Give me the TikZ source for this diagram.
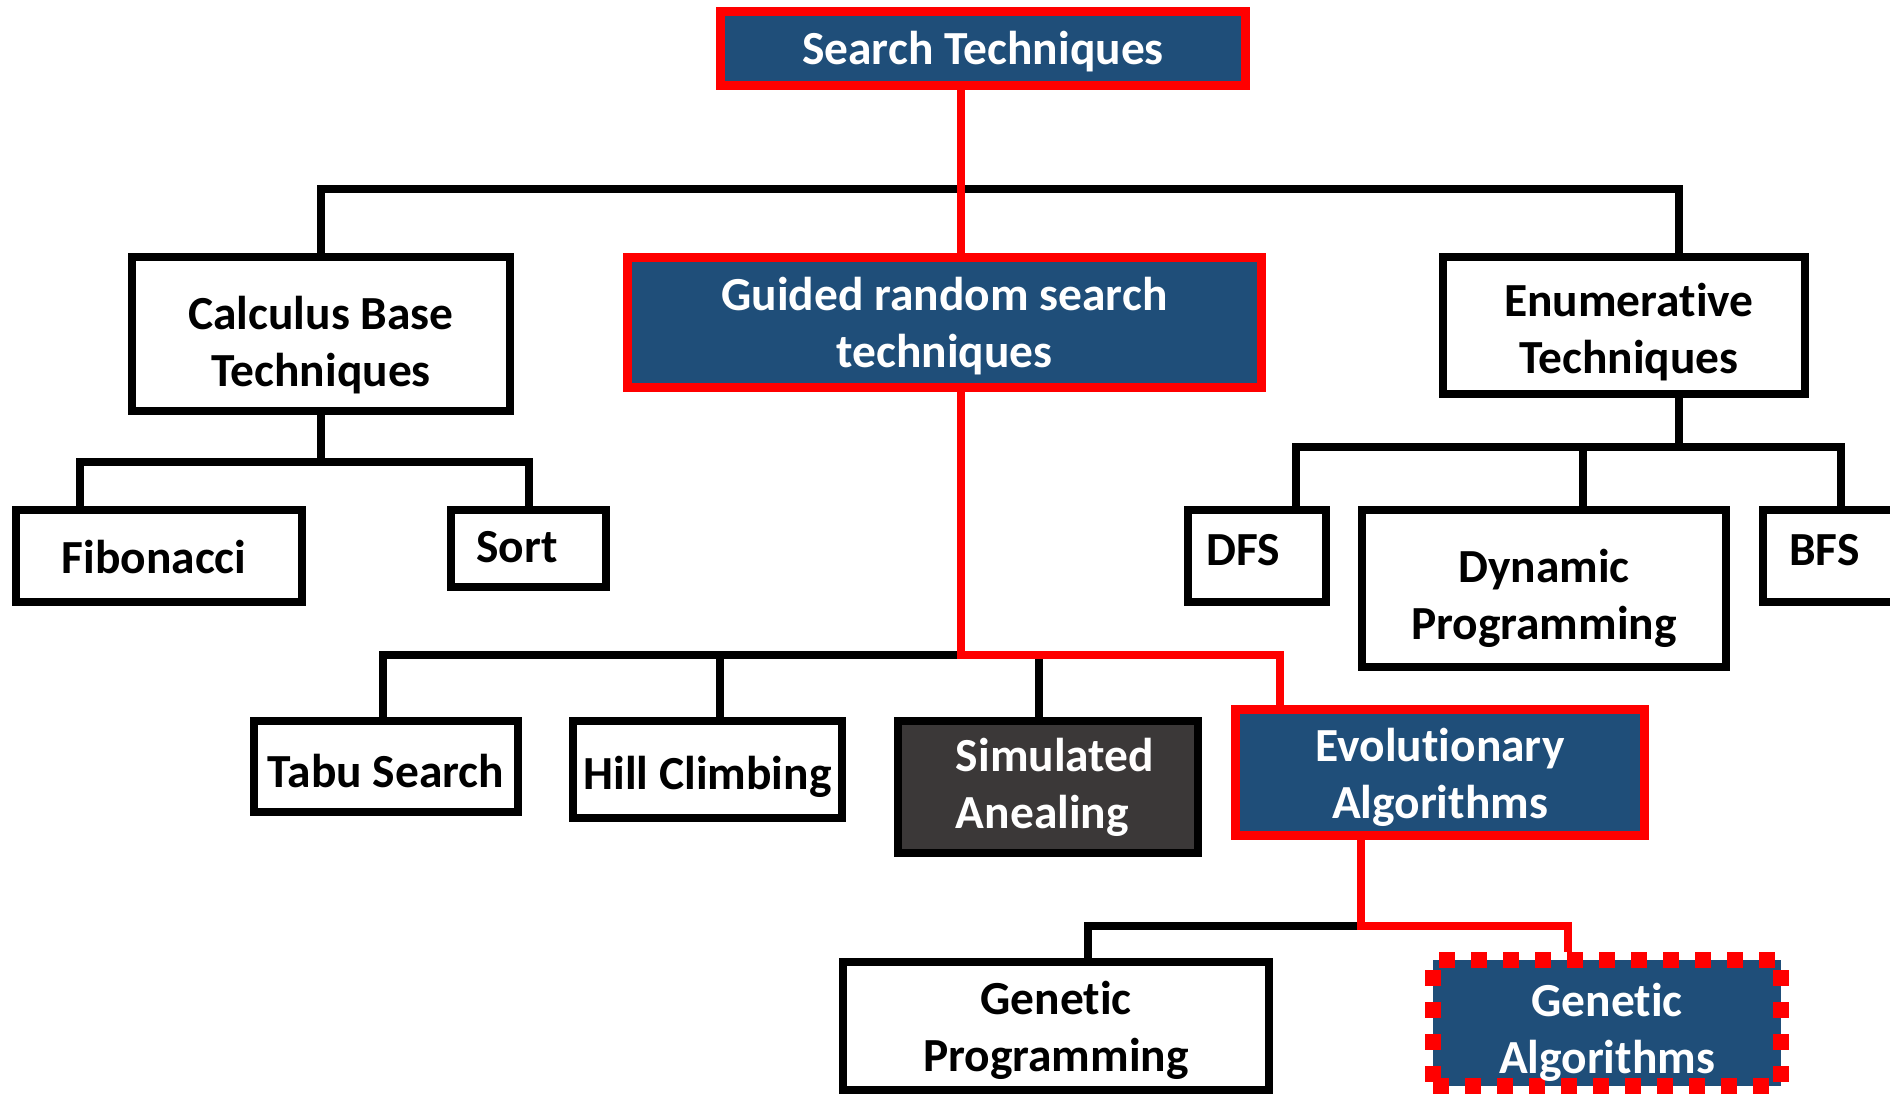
\documentclass[tikz,border=0pt]{standalone}
\usepackage{fontspec}
\setmainfont{Carlito}[RawFeature={-liga;-clig;-calt}]
\definecolor{dblue}{RGB}{31,78,121}
\definecolor{dgray}{RGB}{59,56,56}
\definecolor{hred}{RGB}{255,0,0}
\begin{document}
\begin{tikzpicture}[x=0.01cm,y=-0.01cm,
  every node/.style={inner sep=0pt,align=center,font=\fontsize{13.5}{16.2}\selectfont\bfseries,
    execute at end node={\rule[-3.5pt]{0pt}{3.5pt}}},
  ts/.style 2 args={execute at begin node={\hspace*{#2pt}\rule{0pt}{#1pt}}},
  wbox/.style={draw=black,line width=0.08cm,fill=white,text=black},
  gbox/.style={draw=black,line width=0.08cm,fill=dgray,text=white},
  rbox/.style={draw=hred,line width=0.09cm,fill=dblue,text=white},
  dbox/.style={draw=hred,line width=0.16cm,dash pattern=on 0.16cm off 0.16cm,fill=dblue,text=white},
  blk/.style={draw=black,line width=0.08cm},
  redl/.style={draw=hred,line width=0.085cm}]
\useasboundingbox (0,0) rectangle (1890,1097);
\fill[white] (0,0) rectangle (1890,1097);
% nodes
\node[rbox,ts={12.6}{0},minimum width=5.25cm,minimum height=0.74cm] (search) at (983,48.5) {Search Techniques};
\node[wbox,ts={33.6}{0},minimum width=3.78cm,minimum height=1.54cm] (calc) at (321,334) {Calculus Base\\Techniques};
\node[rbox,ts={29.2}{0},minimum width=6.34cm,minimum height=1.30cm] (guided) at (944.5,322.5) {Guided random search\\techniques};
\node[wbox,ts={30.8}{2.8},minimum width=3.62cm,minimum height=1.37cm] (enum) at (1624,325.5) {Enumerative\\Techniques};
\node[wbox,ts={13.4}{0},minimum width=2.86cm,minimum height=0.92cm] (fib) at (159,556) {Fibonacci\rule{2.8pt}{0pt}};
\node[wbox,ts={11.4}{0},minimum width=1.55cm,minimum height=0.77cm] (sort) at (528.5,548.5) {Sort\rule{6.5pt}{0pt}};
\node[wbox,ts={9}{0},minimum width=1.38cm,minimum height=0.92cm] (dfs) at (1257,556) {DFS\rule{8pt}{0pt}};
\node[wbox,ts={32.4}{0},minimum width=3.64cm,minimum height=1.57cm] (dp) at (1544,588.5) {Dynamic\\Programming};
\node[wbox,ts={9}{0},minimum width=1.42cm,minimum height=0.92cm] (bfs) at (1834,556) {BFS\rule{5.5pt}{0pt}};
\node[wbox,ts={15.6}{0},minimum width=2.64cm,minimum height=0.91cm] (tabu) at (386,766.5) {Tabu Search};
\node[wbox,ts={14.6}{0},minimum width=2.69cm,minimum height=0.97cm] (hill) at (707.5,769.5) {Hill Climbing};
\node[gbox,ts={27.2}{4},align=left,minimum width=3.00cm,minimum height=1.32cm] (sim) at (1048,787) {Simulated\\Anealing};
\node[rbox,ts={29.6}{0},minimum width=4.09cm,minimum height=1.26cm] (evo) at (1440,772.5) {Evolutionary\\Algorithms};
\node[wbox,ts={29.2}{0},minimum width=4.26cm,minimum height=1.28cm] (gp) at (1056,1026) {Genetic\\Programming};
\node[dbox,ts={32}{0},minimum width=3.48cm,minimum height=1.26cm] (ga) at (1607,1023) {Genetic\\Algorithms};
% junction coordinates
\coordinate (j0) at (961,189);
\coordinate (b0L) at (321,189);
\coordinate (b0R) at (1679,189);
\coordinate (b1L) at (80,462);
\coordinate (b1M) at (321,462);
\coordinate (b1R) at (528.5,462);
\coordinate (b2L) at (1296,447);
\coordinate (b2M) at (1583,447);
\coordinate (b2R) at (1841,447);
\coordinate (b3) at (961,655);
\coordinate (b3L) at (383,655);
\coordinate (b3H) at (720,655);
\coordinate (b3S) at (1039,655);
\coordinate (b3E) at (1280,655);
\coordinate (b4) at (1361,926);
\coordinate (b4L) at (1088,926);
\coordinate (b4R) at (1568,926);
% black connectors
\draw[blk] (calc.north) -- (b0L) -- (b0R) -- (b0R |- enum.north);
\draw[blk] (calc.south) -- (b1M);
\draw[blk] (fib.north -| b1L) -- (b1L) -- (b1R) -- (sort.north);
\draw[blk] (b0R |- enum.south) -- (b0R |- b2L);
\draw[blk] (dfs.north -| b2L) -- (b2L) -- (b2R) -- (b2R |- bfs.north);
\draw[blk] (b2M) -- (b2M |- dp.north);
\draw[blk] (b3L |- tabu.north) -- (b3L) -- (b3);
\draw[blk] (b3H) -- (b3H |- hill.north);
\draw[blk] (b3S) -- (b3S |- sim.north);
\draw[blk] (b4L |- gp.north) -- (b4L) -- (b4);
% red connectors
\draw[redl] (j0 |- search.south) -- (j0 |- guided.north);
\draw[redl] (b3 |- guided.south) -- (b3) -- (b3E) -- (b3E |- evo.north);
\draw[redl] (b4 |- evo.south) -- (b4) -- (b4R) -- (b4R |- ga.north);
\end{tikzpicture}
\end{document}
